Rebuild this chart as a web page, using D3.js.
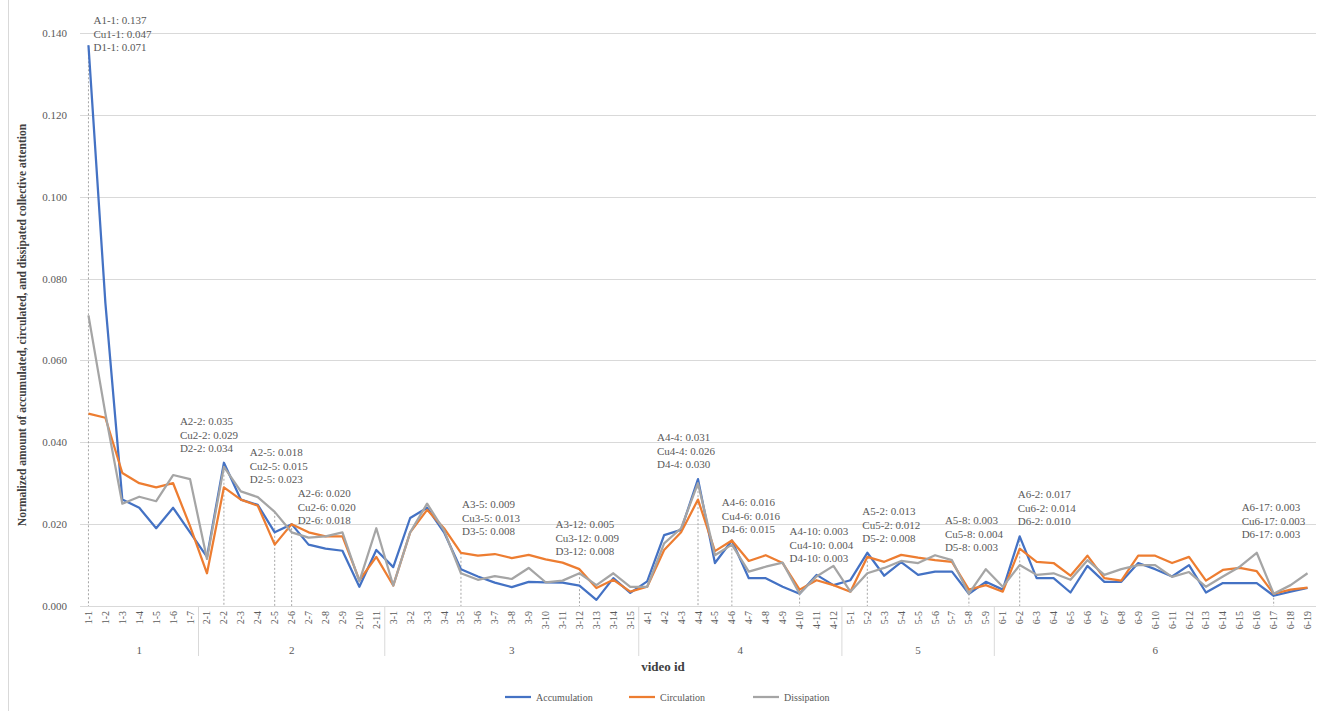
<!DOCTYPE html>
<html>
<head>
<meta charset="utf-8">
<script src="https://cdn.jsdelivr.net/npm/d3@7"></script>
<style>
  body { margin: 0; background: #fff; }
  #chart { width: 1323px; height: 711px; }
  text { font-family: "Liberation Serif", "Times New Roman", serif; }
  .axisLabel { font-weight: bold; fill: #404040; }
</style>
</head>
<body>
<div id="chart"></div>
<script>
var groups = ["1", "2", "3", "4", "5", "6"];
var groupSizes = [7, 11, 15, 12, 9, 19];

var videoIds = [
    "1-1","1-2","1-3","1-4","1-5","1-6","1-7",
    "2-1","2-2","2-3","2-4","2-5","2-6","2-7","2-8","2-9","2-10","2-11",
    "3-1","3-2","3-3","3-4","3-5","3-6","3-7","3-8","3-9","3-10","3-11","3-12","3-13","3-14","3-15",
    "4-1","4-2","4-3","4-4","4-5","4-6","4-7","4-8","4-9","4-10","4-11","4-12",
    "5-1","5-2","5-3","5-4","5-5","5-6","5-7","5-8","5-9",
    "6-1","6-2","6-3","6-4","6-5","6-6","6-7","6-8","6-9","6-10","6-11","6-12","6-13","6-14","6-15","6-16","6-17","6-18","6-19"
];

var accumulation = [
    0.137, 0.074, 0.026, 0.024, 0.019, 0.024, 0.018,
    0.012, 0.035, 0.026, 0.0247, 0.018, 0.020, 0.015, 0.014, 0.0135, 0.0047, 0.0137,
    0.0095, 0.0215, 0.024, 0.018, 0.009, 0.0072, 0.0057, 0.0046, 0.0059, 0.0058, 0.0057, 0.005, 0.0015, 0.0068, 0.0032,
    0.006, 0.0173, 0.0186, 0.031, 0.0105, 0.016, 0.0068, 0.0068, 0.0047, 0.003, 0.0076, 0.0051,
    0.0063, 0.013, 0.0074, 0.0107, 0.0076, 0.0084, 0.0084, 0.003, 0.0059,
    0.004, 0.017, 0.0068, 0.0068, 0.0033, 0.0098, 0.0059, 0.0059, 0.0105, 0.009, 0.0072, 0.010, 0.0033, 0.0056, 0.0056, 0.0056, 0.0025, 0.0035, 0.0044
];

var circulation = [
    0.047, 0.046, 0.0325, 0.030, 0.029, 0.030, 0.0195,
    0.008, 0.029, 0.026, 0.0245, 0.015, 0.020, 0.018, 0.017, 0.017, 0.0063, 0.012,
    0.005, 0.018, 0.0235, 0.019, 0.013, 0.0123, 0.0127, 0.0117, 0.0125, 0.0114, 0.0106, 0.009, 0.0044, 0.0064, 0.0035,
    0.0047, 0.0137, 0.018, 0.026, 0.0134, 0.016, 0.011, 0.0124, 0.0105, 0.004, 0.0063, 0.0051,
    0.0035, 0.012, 0.0108, 0.0125, 0.0118, 0.0112, 0.0108, 0.004, 0.0051,
    0.0035, 0.014, 0.0108, 0.0105, 0.0074, 0.0123, 0.0068, 0.0062, 0.0123, 0.0123, 0.0105, 0.012, 0.0062, 0.0088, 0.0093, 0.0085, 0.003, 0.004, 0.0045
];

var dissipation = [
    0.071, 0.047, 0.025, 0.0267, 0.0256, 0.032, 0.031,
    0.0115, 0.034, 0.028, 0.0266, 0.023, 0.018, 0.0167, 0.017, 0.018, 0.006, 0.019,
    0.005, 0.018, 0.025, 0.0185, 0.008, 0.0064, 0.0073, 0.0066, 0.0093, 0.0058, 0.0062, 0.008, 0.0051, 0.008, 0.0047,
    0.0047, 0.0153, 0.019, 0.030, 0.0124, 0.015, 0.0084, 0.0096, 0.0106, 0.003, 0.0072, 0.0098,
    0.0035, 0.008, 0.0093, 0.011, 0.0105, 0.0124, 0.0112, 0.003, 0.009,
    0.0047, 0.010, 0.0076, 0.008, 0.0064, 0.0112, 0.0076, 0.009, 0.010, 0.010, 0.0071, 0.0083, 0.0047, 0.0072, 0.0096, 0.013, 0.003, 0.0051, 0.008
];

var yTicks = [0, 0.02, 0.04, 0.06, 0.08, 0.10, 0.12, 0.14];

// annotated points: id and the three values shown
var notes = [
    {id: "1-1", a: "0.137", cu: "0.047", d: "0.071"},
    {id: "2-2", a: "0.035", cu: "0.029", d: "0.034"},
    {id: "2-5", a: "0.018", cu: "0.015", d: "0.023"},
    {id: "2-6", a: "0.020", cu: "0.020", d: "0.018"},
    {id: "3-5", a: "0.009", cu: "0.013", d: "0.008"},
    {id: "3-12", a: "0.005", cu: "0.009", d: "0.008"},
    {id: "4-4", a: "0.031", cu: "0.026", d: "0.030"},
    {id: "4-6", a: "0.016", cu: "0.016", d: "0.015"},
    {id: "4-10", a: "0.003", cu: "0.004", d: "0.003"},
    {id: "5-2", a: "0.013", cu: "0.012", d: "0.008"},
    {id: "5-8", a: "0.003", cu: "0.004", d: "0.003"},
    {id: "6-2", a: "0.017", cu: "0.014", d: "0.010"},
    {id: "6-17", a: "0.003", cu: "0.003", d: "0.003"}
];
// label placement: x offset from the point, top line position
var noteLayout = {
    "1-1": [5, 24], "2-2": [-44, 425], "2-5": [-25, 456], "2-6": [6, 497],
    "3-5": [1, 508], "3-12": [-24, 528], "4-4": [-41, 441], "4-6": [-10, 506],
    "4-10": [-10, 535], "5-2": [-5, 515], "5-8": [-24, 524], "6-2": [-2, 498],
    "6-17": [-32, 511]
};

var series = [
    {name: "Accumulation", values: accumulation, color: "#4472C4"},
    {name: "Circulation", values: circulation, color: "#ED7D31"},
    {name: "Dissipation", values: dissipation, color: "#A5A5A5"}
];

var width = 1323, height = 711;
var margin = {top: 33, left: 80, right: 7, bottom: 105};

var svg = d3.select("#chart").append("svg")
    .attr("width", width)
    .attr("height", height);

// chart frame edge
svg.append("line")
    .attr("x1", 8.5).attr("x2", 8.5)
    .attr("y1", 0).attr("y2", height)
    .attr("stroke", "#d9d9d9");

var xScale = d3.scalePoint()
    .domain(videoIds)
    .range([margin.left, width - margin.right])
    .padding(0.5);

var yScale = d3.scaleLinear()
    .domain([0, 0.14])
    .range([height - margin.bottom, margin.top]);

// gridlines
svg.append("g")
    .selectAll("line")
    .data(yTicks)
    .enter()
    .append("line")
        .attr("x1", margin.left)
        .attr("x2", width - margin.right)
        .attr("y1", function(d) { return Math.round(yScale(d)) + 0.5; })
        .attr("y2", function(d) { return Math.round(yScale(d)) + 0.5; })
        .attr("stroke", "#d9d9d9")
        .attr("stroke-width", 1);

// y axis labels
var yAxis = svg.append("g")
    .attr("transform", `translate(${margin.left - 10},0)`)
    .call(d3.axisLeft(yScale).tickValues(yTicks).tickFormat(d3.format(".3f")).tickSize(0));
yAxis.select(".domain").remove();
yAxis.selectAll("text")
    .attr("font-family", "Liberation Serif")
    .attr("font-size", 11)
    .attr("fill", "#595959");

// drop lines for annotated points
var maxAt = function(id) {
    var i = videoIds.indexOf(id);
    return Math.max(accumulation[i], circulation[i], dissipation[i]);
};
svg.append("g")
    .selectAll("line")
    .data(notes)
    .enter()
    .append("line")
        .attr("x1", function(d) { return xScale(d.id); })
        .attr("x2", function(d) { return xScale(d.id); })
        .attr("y1", function(d) { return yScale(maxAt(d.id)); })
        .attr("y2", yScale(0))
        .attr("stroke", "#a6a6a6")
        .attr("stroke-width", 1)
        .attr("stroke-dasharray", "2,2");

// series lines
var line = d3.line()
    .x(function(d, i) { return xScale(videoIds[i]); })
    .y(function(d) { return yScale(d); });

svg.append("g")
    .selectAll("path")
    .data(series)
    .enter()
    .append("path")
        .attr("d", function(d) { return line(d.values); })
        .attr("fill", "none")
        .attr("stroke", function(d) { return d.color; })
        .attr("stroke-width", 2.25)
        .attr("stroke-linejoin", "round");

// annotations
var noteG = svg.append("g")
    .selectAll("text")
    .data(notes)
    .enter()
    .append("text")
        .attr("font-size", 11)
        .attr("fill", "#595959")
        .attr("x", function(d) { return xScale(d.id) + noteLayout[d.id][0]; })
        .attr("y", function(d) { return noteLayout[d.id][1]; });
noteG.each(function(d) {
    var t = d3.select(this);
    var x = xScale(d.id) + noteLayout[d.id][0];
    [["A", d.a], ["Cu", d.cu], ["D", d.d]].forEach(function(p, k) {
        t.append("tspan")
            .attr("x", x)
            .attr("dy", k === 0 ? 0 : 13.5)
            .text(p[0] + d.id + ": " + p[1]);
    });
});

// category labels
svg.append("g")
    .selectAll("text")
    .data(videoIds)
    .enter()
    .append("text")
        .attr("transform", function(d) { return `translate(${xScale(d) + 3.5},${yScale(0) + 5}) rotate(-90)`; })
        .attr("text-anchor", "end")
        .attr("font-size", 10)
        .attr("fill", "#595959")
        .text(function(d) { return d; });

// group separators and labels
var bounds = [];
var start = 0;
groupSizes.forEach(function(n, g) {
    bounds.push({name: groups[g], first: videoIds[start], last: videoIds[start + n - 1]});
    start += n;
});
var step = xScale.step();

svg.append("g")
    .selectAll("line")
    .data(bounds.slice(1))
    .enter()
    .append("line")
        .attr("x1", function(d) { return xScale(d.first) - step / 2; })
        .attr("x2", function(d) { return xScale(d.first) - step / 2; })
        .attr("y1", yScale(0))
        .attr("y2", yScale(0) + 50)
        .attr("stroke", "#d9d9d9");

svg.append("g")
    .selectAll("text")
    .data(bounds)
    .enter()
    .append("text")
        .attr("x", function(d) { return (xScale(d.first) + xScale(d.last)) / 2; })
        .attr("y", yScale(0) + 48)
        .attr("text-anchor", "middle")
        .attr("font-size", 11)
        .attr("fill", "#595959")
        .text(function(d) { return d.name; });

// axis titles
svg.append("text")
    .attr("class", "axisLabel")
    .attr("x", 663)
    .attr("y", 671)
    .attr("text-anchor", "middle")
    .attr("font-size", 13)
    .text("video id");

svg.append("text")
    .attr("class", "axisLabel")
    .attr("transform", "rotate(-90)")
    .attr("x", -325)
    .attr("y", 26)
    .attr("text-anchor", "middle")
    .attr("font-size", 11.5)
    .text("Normalized amount of accumulated, circulated, and dissipated collective attention");

// legend
var legend = svg.append("g")
    .selectAll("g")
    .data(series)
    .enter()
    .append("g")
        .attr("transform", function(d, i) { return `translate(${505 + i * 124},697)`; });
legend.append("line")
    .attr("x1", 0).attr("x2", 26)
    .attr("stroke", function(d) { return d.color; })
    .attr("stroke-width", 2.25);
legend.append("text")
    .attr("x", 31)
    .attr("y", 3.5)
    .attr("font-size", 10)
    .attr("fill", "#595959")
    .text(function(d) { return d.name; });
</script>
</body>
</html>
